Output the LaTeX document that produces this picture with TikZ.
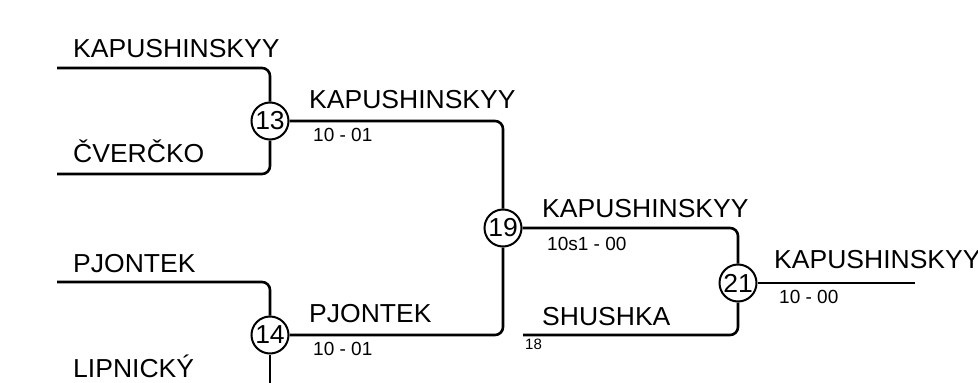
\documentclass[tikz,border=0pt]{standalone}
\usepackage{fontspec}
\setmainfont{Liberation Sans}
\newfontfamily\pfont[FakeStretch=1.02]{Liberation Sans}
\begin{document}
\begin{tikzpicture}[x=1pt,y=-1pt,
  line/.style={line width=2.6pt, rounded corners=8pt},
  match/.style={circle, draw, fill=white, line width=2pt, minimum size=37pt, inner sep=0pt, font=\pfont\fontsize{26}{26}\selectfont},
  pname/.style={anchor=base west, inner sep=0pt, font=\pfont\fontsize{26}{30}\selectfont},
  score/.style={anchor=north west, inner sep=0pt, font=\fontsize{19}{21}\selectfont},
  seed/.style={anchor=north west, inner sep=0pt, font=\fontsize{15}{17}\selectfont}]
\useasboundingbox (0,0) rectangle (978,383);
% coordinates
\coordinate (a1) at (57,68);
\coordinate (a2) at (57,174);
\coordinate (b1) at (57,282);
\coordinate (b2) at (270,383);
\coordinate (c18) at (523,335);
\coordinate (w) at (915,283);
% matches
\node[match] (m13) at (270,121) {13};
\node[match] (m14) at (270,335) {14};
\node[match] (m19) at (503,228) {19};
\node[match] (m21) at (738,283) {21};
% connectors
\draw[line] (a1) -| (m13.north);
\draw[line] (a2) -| (m13.south);
\draw[line] (b1) -| (m14.north);
\draw[line] (m14.south) -- (b2);
\draw[line] (m13.east) -| (m19.north);
\draw[line] (m14.east) -| (m19.south);
\draw[line] (m19.east) -| (m21.north);
\draw[line] (c18) -| (m21.south);
\draw[line] (m21.east) -- (w);
% labels
\node[pname] (t1) at (73,57) {KAPUSHINSKYY};
\node[pname] (t2) at (73,162) {ČVERČKO};
\node[pname] (t3) at (73,272) {PJONTEK};
\node[pname] (t4) at (73,377) {LIPNICKÝ};
\node[pname] (t5) at (309,108) {KAPUSHINSKYY};
\node[score] (s5) at (313,128) {10 - 01};
\node[pname] (t6) at (309,322) {PJONTEK};
\node[score] (s6) at (313,342) {10 - 01};
\node[pname] (t7) at (542,217) {KAPUSHINSKYY};
\node[score] (s7) at (547,237) {10s1 - 00};
\node[pname] (t8) at (542,325) {SHUSHKA};
\node[seed] (s8) at (525,339) {18};
\node[pname] (t9) at (774,268) {KAPUSHINSKYY};
\node[score] (s9) at (779,290) {10 - 00};
\end{tikzpicture}
\end{document}
